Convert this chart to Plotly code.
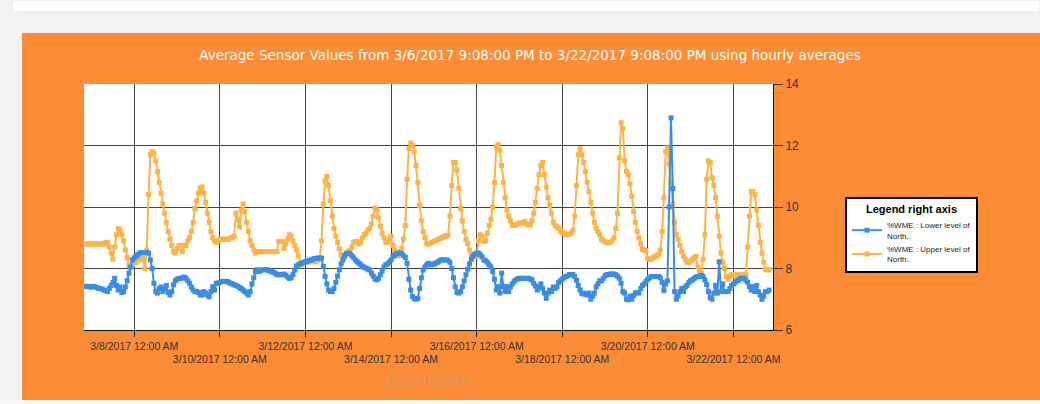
import pandas as pd
import plotly.graph_objects as go

# ---------------- data (hourly averages, starting 3/6/2017 21:00) ----------------
start_time = "2017-03-06 21:00"

upper_level = [
    8.8, 8.8, 8.8, 8.8, 8.8, 8.8, 8.8, 8.8, 8.8, 8.8, 8.8, 8.85, 8.85, 8.7, 8.5, 8.3, 8.7, 9.1, 9.3, 9.25, 9.1, 8.9, 8.6, 8.35,
    8.1, 8.05, 8.15, 8.2, 8.2, 8.25, 8.3, 8.3, 8.35, 8.0, 8.6, 10.4, 11.7, 11.8, 11.75, 11.5, 11.15, 10.8, 10.45, 10.1, 9.8, 9.5, 9.2, 8.95,
    8.75, 8.55, 8.5, 8.65, 8.75, 8.75, 8.55, 8.75, 8.75, 8.9, 9.0, 9.2, 9.5, 9.95, 10.2, 10.45, 10.6, 10.65, 10.45, 10.15, 9.8, 9.5, 9.2, 9.0,
    8.9, 8.85, 8.9, 8.95, 8.95, 8.95, 8.95, 8.95, 8.95, 9.0, 9.0, 9.05, 9.8, 9.6, 9.35, 9.9, 10.1, 9.85, 9.5, 9.2, 8.9, 8.75, 8.6, 8.5,
    8.55, 8.55, 8.55, 8.55, 8.55, 8.55, 8.55, 8.55, 8.55, 8.55, 8.55, 8.55, 8.88, 8.88, 8.88, 8.65, 8.8, 8.95, 9.1, 9.05, 8.9, 8.75, 8.6, 8.4,
    8.12, 8.18, 8.2, 8.2, 8.2, 8.22, 8.22, 8.22, 8.22, 8.25, 8.25, 8.3, 8.9, 10.1, 10.85, 11.0, 10.7, 10.2, 9.7, 9.3, 9.05, 8.85, 8.65, 8.45,
    8.25, 8.35, 8.5, 8.55, 8.6, 8.7, 8.85, 8.88, 8.88, 8.8, 8.85, 9.0, 9.1, 9.15, 9.25, 9.3, 9.45, 9.7, 9.97, 9.9, 9.65, 9.37, 9.15, 9.0,
    8.85, 8.85, 8.95, 9.05, 8.75, 8.6, 8.45, 8.4, 8.55, 8.65, 8.95, 9.4, 10.9, 11.9, 12.08, 12.0, 11.8, 11.35, 10.8, 10.05, 9.55, 9.2, 9.0, 8.8,
    8.8, 8.82, 8.85, 8.88, 8.9, 8.93, 8.96, 8.99, 9.02, 9.05, 9.07, 9.08, 9.7, 10.7, 11.45, 11.45, 11.2, 10.6, 9.95, 9.55, 9.2, 8.95, 8.8, 8.6,
    8.45, 8.39, 8.39, 8.39, 8.9, 9.1, 9.05, 8.88, 8.9, 9.15, 9.4, 9.6, 10.0, 10.8, 11.95, 12.03, 11.85, 11.35, 10.8, 10.3, 9.9, 9.7, 9.55, 9.4,
    9.4, 9.42, 9.45, 9.48, 9.48, 9.48, 9.53, 9.45, 9.42, 9.42, 9.55, 9.8, 10.15, 10.6, 11.05, 11.35, 11.45, 11.05, 10.65, 10.3, 10.05, 9.8, 9.5, 9.4,
    9.35, 9.3, 9.22, 9.18, 9.15, 9.1, 9.1, 9.12, 9.15, 9.25, 9.7, 10.7, 11.7, 11.9, 11.7, 11.45, 11.15, 10.8, 10.5, 10.15, 9.8, 9.5, 9.3, 9.2,
    9.1, 8.95, 8.9, 8.88, 8.85, 8.83, 8.85, 8.9, 8.99, 9.3, 9.8, 11.6, 12.74, 12.55, 11.5, 11.16, 11.05, 10.75, 10.35, 9.85, 9.5, 9.2, 9.0, 8.8,
    8.62, 8.6, 8.58, 8.32, 8.3, 8.3, 8.35, 8.39, 8.42, 8.45, 8.6, 9.2, 10.3, 11.8, 11.92, 11.4, 10.8, 10.1, 9.5, 9.1, 8.95, 8.75, 8.55, 8.4,
    8.3, 8.2, 8.2, 8.25, 8.3, 8.35, 8.39, 8.05, 7.88, 7.85, 8.3, 9.1, 10.9, 11.5, 11.45, 10.95, 10.7, 10.3, 9.7, 9.05, 8.5, 8.2, 8.0, 7.74,
    7.65, 7.74, 7.8, 7.78, 7.75, 7.8, 7.78, 7.75, 7.8, 7.8, 7.8, 8.7, 9.7, 10.5, 10.5, 10.4, 9.9, 9.4, 8.85, 8.5, 8.2, 7.96, 7.96, 7.95,
]

lower_level = [
    7.42, 7.42, 7.4, 7.4, 7.42, 7.4, 7.38, 7.35, 7.35, 7.33, 7.3, 7.28, 7.25, 7.35, 7.45, 7.55, 7.68, 7.45, 7.3, 7.4, 7.22, 7.25, 7.4, 7.6,
    7.85, 8.05, 8.28, 8.35, 8.4, 8.45, 8.5, 8.52, 8.52, 8.52, 8.52, 8.5, 8.28, 8.0, 7.52, 7.25, 7.2, 7.35, 7.4, 7.25, 7.35, 7.45, 7.22, 7.14,
    7.25, 7.47, 7.6, 7.65, 7.68, 7.68, 7.7, 7.72, 7.68, 7.6, 7.52, 7.4, 7.3, 7.25, 7.25, 7.22, 7.14, 7.14, 7.25, 7.2, 7.14, 7.08, 7.25, 7.41,
    7.3, 7.52, 7.52, 7.55, 7.58, 7.58, 7.58, 7.58, 7.55, 7.52, 7.5, 7.47, 7.45, 7.42, 7.38, 7.35, 7.3, 7.25, 7.2, 7.14, 7.25, 7.5, 7.7, 7.9,
    7.96, 7.9, 7.93, 7.96, 7.96, 7.96, 7.95, 7.92, 7.9, 7.88, 7.85, 7.8, 7.8, 7.8, 7.8, 7.82, 7.78, 7.72, 7.68, 7.7, 7.8, 7.95, 8.08, 8.12,
    8.15, 8.17, 8.2, 8.22, 8.24, 8.26, 8.28, 8.3, 8.32, 8.33, 8.34, 8.34, 8.34, 8.07, 7.74, 7.5, 7.3, 7.25, 7.25, 7.35, 7.55, 7.75, 7.96, 8.15,
    8.3, 8.42, 8.48, 8.5, 8.48, 8.42, 8.35, 8.28, 8.22, 8.17, 8.12, 8.07, 8.04, 8.01, 7.98, 7.95, 7.85, 7.75, 7.66, 7.63, 7.68, 7.8, 7.92, 8.05,
    8.12, 8.15, 8.2, 8.28, 8.39, 8.44, 8.48, 8.5, 8.5, 8.48, 8.42, 8.36, 8.17, 7.65, 7.3, 7.09, 7.02, 7.0, 7.03, 7.35, 7.7, 7.95, 8.05, 8.12,
    8.17, 8.12, 8.13, 8.15, 8.17, 8.2, 8.24, 8.28, 8.28, 8.28, 8.28, 8.26, 8.2, 8.0, 7.7, 7.4, 7.22, 7.2, 7.25, 7.41, 7.6, 7.8, 7.98, 8.15,
    8.3, 8.4, 8.47, 8.5, 8.5, 8.45, 8.38, 8.28, 8.25, 8.2, 8.12, 8.05, 7.9, 7.65, 7.3, 7.41, 7.2, 7.85, 7.41, 7.25, 7.41, 7.25, 7.4, 7.5,
    7.58, 7.63, 7.66, 7.68, 7.68, 7.68, 7.68, 7.68, 7.68, 7.66, 7.63, 7.52, 7.43, 7.3, 7.4, 7.5, 7.35, 7.2, 7.03, 7.2, 7.3, 7.25, 7.4, 7.35,
    7.4, 7.55, 7.6, 7.66, 7.7, 7.74, 7.76, 7.8, 7.8, 7.8, 7.74, 7.62, 7.45, 7.3, 7.18, 7.2, 7.16, 7.14, 7.2, 7.0, 7.1, 7.2, 7.4, 7.5,
    7.6, 7.6, 7.68, 7.76, 7.8, 7.8, 7.82, 7.82, 7.82, 7.8, 7.75, 7.68, 7.52, 7.25, 7.2, 7.0, 6.98, 7.1, 7.0, 7.12, 7.2, 7.22, 7.2, 7.35,
    7.45, 7.5, 7.58, 7.65, 7.7, 7.74, 7.74, 7.74, 7.74, 7.74, 7.7, 7.55, 7.28, 7.5, 7.6, 10.0, 12.9, 10.6, 7.25, 7.0, 7.1, 7.25, 7.35, 7.25,
    7.4, 7.45, 7.55, 7.6, 7.63, 7.68, 7.72, 7.74, 7.74, 7.78, 7.74, 7.63, 7.48, 7.25, 7.05, 7.0, 7.2, 7.45, 7.2, 8.22, 7.25, 7.5, 7.25, 7.25,
    7.25, 7.35, 7.45, 7.5, 7.55, 7.6, 7.62, 7.68, 7.68, 7.68, 7.62, 7.55, 7.41, 7.3, 7.41, 7.25, 7.45, 7.25, 7.14, 7.0, 7.1, 7.25, 7.25, 7.3,
]

series_names = ["%WME : Lower level of<br>North..", "%WME : Upper level of<br>North.."]
tick_dates = ["2017-03-08", "2017-03-10", "2017-03-12", "2017-03-14",
              "2017-03-16", "2017-03-18", "2017-03-20", "2017-03-22"]
tick_labels = ["3/8/2017 12:00 AM", "3/10/2017 12:00 AM", "3/12/2017 12:00 AM", "3/14/2017 12:00 AM",
               "3/16/2017 12:00 AM", "3/18/2017 12:00 AM", "3/20/2017 12:00 AM", "3/22/2017 12:00 AM"]
y_ticks = [6, 8, 10, 12, 14]

assert len(upper_level) == len(lower_level) == 384
times = pd.date_range(start_time, periods=len(upper_level), freq="h")

# alternate tick labels on two rows
tick_text = [t if i % 2 == 0 else "<br>" + t for i, t in enumerate(tick_labels)]

BLUE = "#3a8de6"
ORANGE_SERIES = "#fdb447"
PANEL = "#fd8c36"

fig = go.Figure()
fig.add_trace(go.Scatter(
    x=times, y=upper_level, name=series_names[1], mode="lines+markers",
    line=dict(color=ORANGE_SERIES, width=2),
    marker=dict(symbol="square", size=5, color=ORANGE_SERIES),
    legendrank=2,
))
fig.add_trace(go.Scatter(
    x=times, y=lower_level, name=series_names[0], mode="lines+markers",
    line=dict(color=BLUE, width=2),
    marker=dict(symbol="square", size=5, color=BLUE),
    legendrank=1,
))

# plot area in pixels
L, R, T, B = 84, 773, 84, 330
W, H = 1040, 404
def px_x(p):
    return (p - L) / (R - L)
def px_y(p):
    return (B - p) / (B - T)

shapes = [
    # grey page strip on top
    dict(type="rect", xref="paper", yref="paper", x0=px_x(0), x1=px_x(W), y0=px_y(33), y1=px_y(0),
         fillcolor="#f3f3f3", line=dict(width=0), layer="above"),
    # white card on top
    dict(type="rect", xref="paper", yref="paper", x0=px_x(12), x1=px_x(W), y0=px_y(12), y1=px_y(0),
         fillcolor="#ffffff", line=dict(color="#e4e4e4", width=1), layer="above"),
    # left strip
    dict(type="rect", xref="paper", yref="paper", x0=px_x(0), x1=px_x(22), y0=px_y(H), y1=px_y(12),
         fillcolor="#f3f3f3", line=dict(width=0), layer="above"),
    # bottom strip
    dict(type="rect", xref="paper", yref="paper", x0=px_x(0), x1=px_x(W), y0=px_y(H), y1=px_y(400),
         fillcolor="#f7f7f7", line=dict(width=0), layer="above"),
]

fig.update_layout(
    width=W, height=H,
    margin=dict(l=L, r=W - R, t=T, b=H - B, autoexpand=False),
    paper_bgcolor=PANEL,
    plot_bgcolor="#ffffff",
    shapes=shapes,
    title=dict(
        text="Average Sensor Values from 3/6/2017 9:08:00 PM to 3/22/2017 9:08:00 PM using hourly averages",
        x=530 / W, xref="container", xanchor="center",
        y=1 - 55 / H, yref="container", yanchor="middle",
        font=dict(family="DejaVu Sans", size=13.5, color="#ffffff"),
    ),
    xaxis=dict(
        type="date",
        range=["2017-03-06 19:48", "2017-03-22 22:12"],
        tickvals=tick_dates, ticktext=tick_text, tickangle=0,
        tickfont=dict(family="Liberation Sans", size=10.5, color="#333333"),
        ticks="outside", ticklen=6, tickcolor="#222222", tickwidth=1,
        showgrid=True, gridcolor="#454545", gridwidth=1,
        showline=True, linecolor="#111111", linewidth=1,
        zeroline=False,
        title=dict(text="Date of Activity", standoff=12,
                   font=dict(family="Liberation Sans", size=12, color="#cf9460")),
    ),
    yaxis=dict(
        side="right", range=[6, 14], tickvals=y_ticks,
        tickfont=dict(family="Liberation Sans", size=12, color="#333333"),
        ticks="outside", ticklen=9, tickcolor="#333333", tickwidth=1,
        showgrid=True, gridcolor="#454545", gridwidth=1,
        showline=True, linecolor="#111111", linewidth=1,
        zeroline=False,
    ),
    legend=dict(
        x=px_x(845), xanchor="left", y=px_y(197), yanchor="top",
        bgcolor="#ffffff", bordercolor="#000000", borderwidth=2,
        font=dict(family="Liberation Sans", size=8, color="#222222"),
        title=dict(text="<b>Legend right axis</b>", side="top center",
                   font=dict(family="Liberation Sans", size=11, color="#000000")),
        itemwidth=30, tracegroupgap=2,
    ),
    showlegend=True,
)

fig.write_html("out.html", config={"displayModeBar": False},
               post_script="document.body.style.margin='0';")
